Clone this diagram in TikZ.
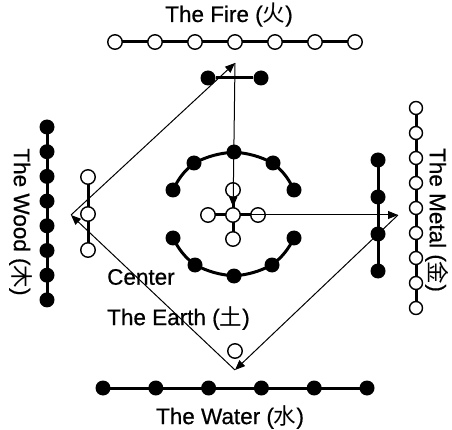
\documentclass[tikz,border=0pt]{standalone}
\usepackage{fontspec}
\setmainfont{Liberation Sans}[FakeBold=0.6]
\newfontfamily\cjk{Noto Sans CJK SC}
\usetikzlibrary{arrows.meta}
\begin{document}
\begin{tikzpicture}[x=1pt,y=-1pt,
  ow/.style={circle,draw=black,line width=1.4pt,fill=white,minimum size=14.5pt,inner sep=0pt},
  bk/.style={circle,fill=black,minimum size=15pt,inner sep=0pt},
  chain/.style={line width=3pt},
  arr/.style={line width=1pt,-{Triangle[length=10pt,width=8pt]}},
  lbl/.style={font=\fontsize{22.5}{26}\selectfont,inner sep=0pt}]
\useasboundingbox (0,0) rectangle (452,430);
% Fire
\foreach \i in {1,...,7} \coordinate (pf\i) at ({115+40*(\i-1)},42);
\draw[chain] (pf1) -- (pf7);
\foreach \i in {1,...,7} \node[ow] (f\i) at (pf\i) {};
\node[lbl] (tfire) at (229,15) {The Fire ({\cjk 火})};
% Fire small
\node[bk] (fa) at (208,78) {};
\node[bk] (fb) at (261,78) {};
\draw[chain] (fa) -- (fb);
% Upper arc
\node[bk] (u1) at (173,190) {};
\node[bk] (u2) at (194,163) {};
\node[bk] (u3) at (234,152) {};
\node[bk] (u4) at (273,163) {};
\node[bk] (u5) at (294,190) {};
\draw[chain] (u1.center) to[bend left=12] (u2.center) to[bend left=10] (u3.center) to[bend left=10] (u4.center) to[bend left=12] (u5.center);
% Lower arc
\node[bk] (l1) at (173,238) {};
\node[bk] (l2) at (195,265) {};
\node[bk] (l3) at (234,276) {};
\node[bk] (l4) at (272,265) {};
\node[bk] (l5) at (294,238) {};
\draw[chain] (l1.center) to[bend right=12] (l2.center) to[bend right=10] (l3.center) to[bend right=10] (l4.center) to[bend right=12] (l5.center);
% Center cross
\coordinate (pc) at (233,215);
\draw[chain] (208,215) -- (258,215);
\draw[chain] (233,190) -- (233,239);
\node[ow] (cl) at (208,215) {};
\node[ow] (cr) at (258,215) {};
\node[ow] (ct) at (233,190) {};
\node[ow] (cb) at (233,239) {};
\node[ow] (c) at (pc) {};
% Wood
\foreach \i in {1,...,8} \coordinate (pw\i) at (47,{127+24.7*(\i-1)});
\draw[chain] (pw1) -- (pw8);
\foreach \i in {1,...,8} \node[bk] (w\i) at (pw\i) {};
\node[lbl,rotate=-90] (twood) at (21,222) {The Wood ({\cjk 木})};
% Wood small
\draw[chain] (88,177) -- (88,250);
\node[ow] (ws1) at (88,177) {};
\node[ow] (ws2) at (88,214) {};
\node[ow] (ws3) at (88,250) {};
% Metal
\foreach \i in {1,...,9} \coordinate (pm\i) at (416,{108+25*(\i-1)});
\draw[chain] (pm1) -- (pm9);
\foreach \i in {1,...,9} \node[ow,minimum size=13pt] (m\i) at (pm\i) {};
\node[lbl,rotate=-90] (tmetal) at (437,220) {The Metal ({\cjk 金})};
% Metal small
\draw[chain] (378,160) -- (378,271);
\node[bk] (ms1) at (378,160) {};
\node[bk] (ms2) at (378,197) {};
\node[bk] (ms3) at (378,234) {};
\node[bk] (ms4) at (378,271) {};
% Water
\foreach \i in {1,...,6} \coordinate (pa\i) at ({103+52.8*(\i-1)},388);
\draw[chain] (pa1) -- (pa6);
\foreach \i in {1,...,6} \node[bk] (a\i) at (pa\i) {};
\node[lbl] (twater) at (230,417) {The Water ({\cjk 水})};
% Earth
\node[ow] (e) at (235,351) {};
\node[lbl,anchor=west] (tcenter) at (107,277) {Center};
\node[lbl,anchor=west] (tearth) at (107,318) {The Earth ({\cjk 土})};
% Cycle arrows
\coordinate (vW) at (71,215);
\coordinate (vF) at (235,63);
\coordinate (vM) at (398,215);
\coordinate (vB) at (235,370);
\draw[arr] (vB) -- (vW);
\draw[arr] (vW) -- (vF);
\draw[arr] (vF) -- (c);
\draw[arr] (c) -- (vM);
\draw[arr] (vM) -- (vB);
\end{tikzpicture}
\end{document}
